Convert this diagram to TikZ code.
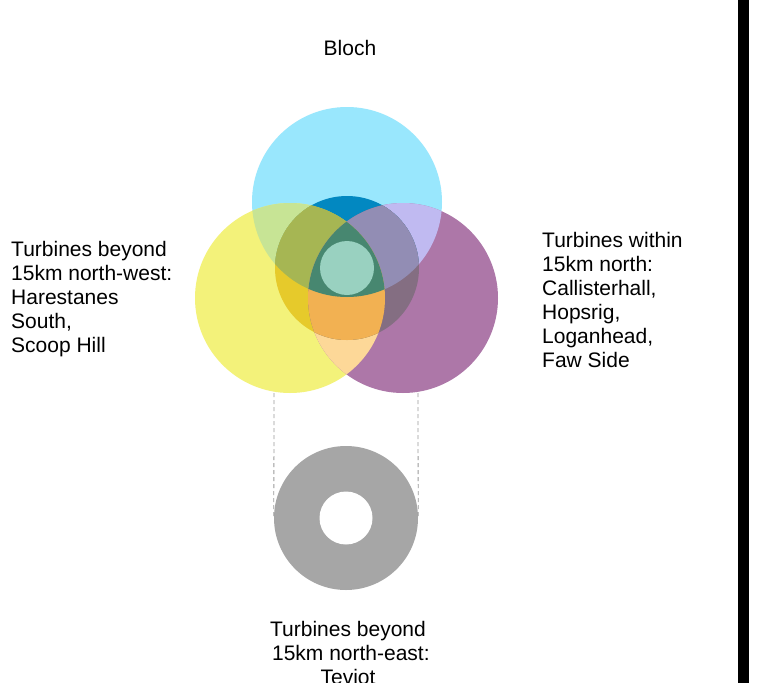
\documentclass[tikz,border=0pt]{standalone}
\usepackage{fontspec}
\setmainfont{Liberation Sans}
\definecolor{cyanOnly}{HTML}{99E7FD}
\definecolor{yelOnly}{HTML}{F3F27A}
\definecolor{purOnly}{HTML}{AD77A8}
\definecolor{cyYe}{HTML}{C7E495}
\definecolor{cyPu}{HTML}{C0BAF1}
\definecolor{yePu}{HTML}{FDD898}
\definecolor{dCy}{HTML}{0288C1}
\definecolor{dYe}{HTML}{E6CA2B}
\definecolor{dPu}{HTML}{846E82}
\definecolor{dCyYe}{HTML}{A6B653}
\definecolor{dCyPu}{HTML}{928DB4}
\definecolor{dYePu}{HTML}{F2B152}
\definecolor{triple}{HTML}{478770}
\definecolor{innerC}{HTML}{99D1C0}
\definecolor{ringgrey}{HTML}{A6A6A6}
\definecolor{dashgrey}{HTML}{9A9A9A}
\begin{document}
\begin{tikzpicture}[x=1pt,y=-1pt,
  lbl/.style={font=\fontsize{21}{24}\selectfont, inner sep=0pt, text=black},
  dashline/.style={draw=dashgrey, line width=0.8pt, dash pattern=on 4pt off 3pt}]
\useasboundingbox (0,0) rectangle (777,683);
\fill[white] (0,0) rectangle (777,683);
\def\R{95pt}
\def\RD{72pt}
\coordinate (cC) at (347,202);
\coordinate (cY) at (290,298);
\coordinate (cP) at (403,298);
\coordinate (cD) at (347,268);
% single circles
\fill[cyanOnly] (cC) circle (\R);
\fill[yelOnly] (cY) circle (\R);
\fill[purOnly] (cP) circle (\R);
% pairwise
\begin{scope}\clip (cY) circle (\R); \fill[cyYe] (cC) circle (\R); \end{scope}
\begin{scope}\clip (cP) circle (\R); \fill[cyPu] (cC) circle (\R); \end{scope}
\begin{scope}\clip (cY) circle (\R); \fill[yePu] (cP) circle (\R); \end{scope}
% dark overlay circle
\begin{scope}
  \clip (cD) circle (\RD);
  \fill[dCy] (cC) circle (\R);
  \fill[dYe] (cY) circle (\R);
  \fill[dPu] (cP) circle (\R);
  \begin{scope}\clip (cY) circle (\R); \fill[dCyYe] (cC) circle (\R); \end{scope}
  \begin{scope}\clip (cP) circle (\R); \fill[dCyPu] (cC) circle (\R); \end{scope}
  \begin{scope}\clip (cY) circle (\R); \fill[dYePu] (cP) circle (\R); \end{scope}
  \begin{scope}\clip (cY) circle (\R); \clip (cP) circle (\R); \fill[triple] (cC) circle (\R); \end{scope}
\end{scope}
\fill[innerC] (cD) circle (27pt);
% ring
\node[circle, fill=ringgrey, minimum size=144pt, inner sep=0pt] (ring) at (346,518) {};
\node[circle, fill=white, minimum size=53pt, inner sep=0pt] (hole) at (ring.center) {};
\coordinate (dw) at (274,393);
\coordinate (de) at (418,393);
\draw[dashline] (dw) -- (ring.west);
\draw[dashline] (de) -- (ring.east);
% black bar
\fill[black] (738,0) rectangle (749,683);
% labels (base anchor = baseline of last line)
\node[lbl, anchor=base] (bloch) at (350,55) {Bloch};
\node[lbl, anchor=base west, align=left] (nw) at (11,352) {Turbines beyond\\15km north-west:\\Harestanes\\South,\\Scoop Hill};
\node[lbl, anchor=base west, align=left] (n) at (542,367) {Turbines within\\15km north:\\Callisterhall,\\Hopsrig,\\Loganhead,\\Faw Side};
\node[lbl, anchor=base, align=center] (ne) at (348,684) {Turbines beyond\\~15km north-east:\\Teviot};
\end{tikzpicture}
\end{document}
